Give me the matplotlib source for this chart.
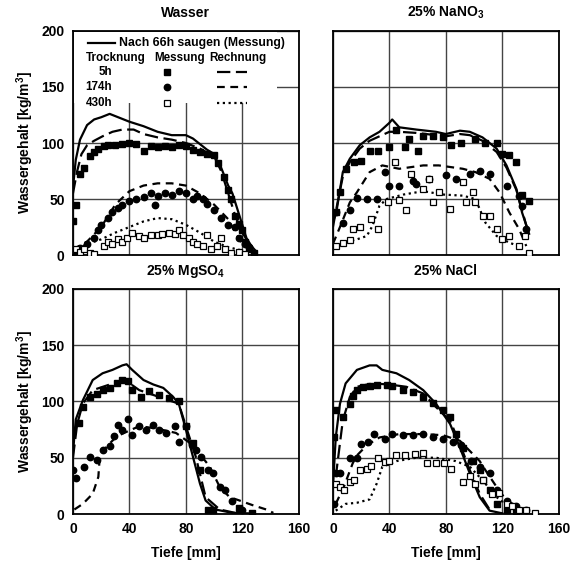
import matplotlib.pyplot as plt
from matplotlib.patches import Rectangle

plt.rcParams["font.family"] = ["Liberation Sans", "DejaVu Sans"]
plt.rcParams["font.weight"] = "bold"
plt.rcParams["mathtext.default"] = "regular"

titles = ["Wasser", "25% NaNO$_3$", "25% MgSO$_4$", "25% NaCl"]
x_ticks = [0, 40, 80, 120, 160]
y_ticks = [0, 50, 100, 150, 200]

# ---- Wasser ----
w_saug_x = [0, 2, 5, 10, 15, 20, 26, 30, 40, 50, 60, 70, 80, 85, 90, 95, 99, 105, 110, 113, 118, 123, 126]
w_saug_y = [60, 85, 103, 116, 121, 123, 126, 124, 119, 115, 110, 107, 107, 104, 99, 94, 91, 78, 62, 55, 35, 15, 9]
w_r5_x = [0, 3, 6, 10, 15, 21, 28, 35, 43, 50, 60, 70, 80, 90, 100, 105, 110, 115, 120, 125, 130]
w_r5_y = [55, 75, 90, 98, 102, 106, 110, 112, 112, 108, 105, 103, 100, 95, 88, 75, 55, 35, 20, 10, 3]
w_m5_x = [0, 2, 5, 8, 12, 15, 18, 22, 25, 30, 35, 40, 45, 50, 55, 60, 65, 70, 75, 80, 85, 90, 95, 100, 103, 107, 110, 112, 115, 118, 120, 122, 125, 128]
w_m5_y = [30, 45, 72, 78, 88, 92, 95, 97, 98, 98, 99, 100, 99, 93, 97, 96, 97, 96, 98, 97, 94, 92, 90, 89, 82, 70, 58, 50, 35, 28, 22, 12, 5, 2]
w_r174_x = [0, 10, 20, 25, 30, 40, 50, 60, 70, 80, 90, 100, 110, 115, 120, 125]
w_r174_y = [5, 12, 25, 35, 45, 57, 62, 64, 64, 62, 55, 45, 32, 20, 10, 5]
w_m174_x = [1, 5, 10, 15, 18, 20, 25, 28, 32, 35, 40, 45, 50, 55, 58, 60, 65, 70, 75, 80, 85, 88, 92, 95, 100, 105, 110, 115, 118, 122, 125]
w_m174_y = [3, 6, 10, 15, 22, 27, 33, 38, 42, 45, 48, 50, 52, 55, 45, 53, 55, 54, 57, 55, 50, 53, 50, 46, 40, 33, 27, 25, 15, 10, 7]
w_r430_x = [0, 10, 20, 30, 40, 50, 60, 70, 80, 90, 100, 110, 120]
w_r430_y = [3, 10, 14, 20, 25, 30, 33, 32, 27, 20, 12, 7, 4]
w_m430_x = [2, 5, 8, 12, 15, 22, 25, 28, 32, 35, 38, 42, 47, 50, 55, 60, 63, 68, 72, 75, 78, 82, 85, 88, 92, 95, 98, 102, 105, 108, 112, 118, 122]
w_m430_y = [5, 3, 5, 2, 1, 8, 12, 10, 14, 12, 15, 20, 17, 15, 18, 18, 19, 20, 19, 22, 18, 15, 12, 10, 8, 18, 5, 8, 15, 5, 2, 3, 1]

# ---- NaNO3 ----
n_saug_x = [0, 2.4, 7, 12, 19, 26, 33, 40, 42, 47, 59, 73, 80, 90, 97, 106, 116, 123, 130, 134, 139]
n_saug_y = [30, 38, 74, 86, 98, 105, 110, 118, 121, 114, 112, 110, 108, 111, 110, 105, 95, 80, 59, 38, 19]
n_r5_x = [0, 3, 7, 12, 19, 26, 33, 40, 47, 59, 73, 80, 90, 97, 106, 116, 123, 130, 134, 138]
n_r5_y = [25, 45, 70, 83, 95, 102, 106, 110, 110, 109, 107, 106, 108, 107, 102, 92, 78, 58, 40, 22]
n_m5_x = [2, 5, 9, 15, 20, 26, 32, 40, 45, 51, 54, 60, 64, 71, 78, 84, 91, 101, 108, 116, 120, 125, 130, 134, 139]
n_m5_y = [38, 56, 77, 83, 84, 93, 93, 96, 112, 96, 104, 93, 106, 106, 105, 98, 100, 104, 100, 100, 90, 89, 83, 54, 48]
n_r174_x = [0, 5, 12, 17, 26, 35, 47, 64, 75, 92, 101, 111, 118, 125, 132, 137]
n_r174_y = [10, 25, 47, 56, 74, 80, 77, 80, 80, 77, 74, 68, 56, 38, 23, 8]
n_m174_x = [2, 7, 12, 17, 24, 31, 37, 40, 47, 57, 59, 68, 80, 87, 97, 104, 111, 123, 132, 134, 137]
n_m174_y = [38, 29, 40, 51, 50, 50, 74, 62, 62, 66, 63, 68, 71, 68, 72, 75, 72, 62, 53, 44, 23]
n_r430_x = [2, 7, 17, 24, 28, 33, 38, 50, 64, 78, 92, 101, 108, 116, 125, 134]
n_r430_y = [8, 11, 14, 17, 26, 44, 50, 54, 57, 54, 53, 50, 29, 17, 11, 7]
n_m430_x = [2, 7, 12, 14, 19, 27, 32, 39, 44, 47, 52, 55, 64, 68, 71, 75, 83, 92, 94, 99, 101, 106, 111, 116, 120, 125, 132, 136, 139]
n_m430_y = [8, 11, 13, 23, 25, 32, 23, 47, 83, 49, 40, 72, 59, 68, 47, 56, 41, 65, 47, 56, 47, 35, 35, 23, 14, 17, 8, 17, 2]

# ---- MgSO4 ----
m_saug_x = [0, 2, 7, 14, 21, 28, 35, 38, 42, 50, 57, 64, 71, 75, 80, 85, 90, 94, 101, 113, 127]
m_saug_y = [54, 84, 101, 119, 125, 128, 132, 133, 128, 119, 115, 112, 104, 98, 75, 51, 27, 12, 4, 1, 0.5]
m_r5_x = [0, 3, 7, 14, 26, 38, 47, 61, 75, 80, 87, 94, 104, 115]
m_r5_y = [50, 80, 98, 110, 115, 118, 110, 104, 98, 78, 51, 15, 4, 1]
m_m5_x = [4, 7, 12, 17, 21, 26, 31, 35, 39, 42, 48, 54, 61, 68, 75, 80, 85, 90, 96, 99, 118, 127]
m_m5_y = [81, 95, 104, 107, 110, 112, 116, 119, 118, 110, 104, 109, 106, 103, 100, 78, 63, 39, 4, 4, 5, 1]
m_r174_x = [1, 7, 14, 18, 19, 24, 31, 38, 47, 59, 73, 83, 90, 97, 104, 111, 118, 127, 137, 142]
m_r174_y = [4, 9, 18, 33, 51, 60, 69, 73, 78, 76, 72, 63, 53, 42, 24, 15, 12, 8, 4, 1]
m_m174_x = [0, 2, 8, 12, 17, 21, 26, 29, 32, 35, 39, 42, 47, 52, 57, 61, 66, 72, 75, 80, 84, 87, 91, 96, 99, 104, 108, 113, 120]
m_m174_y = [39, 32, 42, 51, 48, 57, 60, 69, 79, 75, 84, 70, 78, 75, 79, 75, 72, 78, 64, 78, 61, 57, 51, 39, 36, 24, 21, 12, 4]

# ---- NaCl ----
c_saug_x = [0, 2, 5, 9, 17, 26, 31, 35, 45, 54, 64, 73, 83, 90, 97, 104, 111, 120]
c_saug_y = [24, 68, 98, 116, 128, 132, 132, 128, 125, 119, 110, 98, 80, 59, 36, 15, 3, 0.6]
c_r5_x = [2, 7, 12, 17, 28, 40, 52, 64, 73, 83, 90, 97, 104, 111]
c_r5_y = [33, 83, 104, 113, 116, 115, 113, 107, 95, 83, 62, 39, 18, 4]
c_m5_x = [1, 2, 7, 12, 14, 17, 21, 26, 31, 38, 42, 50, 57, 64, 71, 78, 83, 87, 92, 99, 104, 106, 111, 116, 123, 130]
c_m5_y = [68, 92, 86, 98, 105, 110, 113, 114, 115, 115, 114, 110, 108, 104, 99, 92, 86, 71, 59, 47, 39, 30, 21, 9, 4, 3]
c_r174_x = [2, 8, 14, 17, 24, 33, 47, 64, 78, 90, 97, 104, 108, 116, 123, 132]
c_r174_y = [9, 25, 45, 52, 61, 68, 71, 71, 70, 65, 56, 47, 39, 24, 12, 6]
c_m174_x = [1, 2, 5, 12, 17, 20, 25, 29, 37, 42, 50, 57, 64, 71, 78, 85, 91, 98, 104, 111, 116, 123, 130, 137]
c_m174_y = [9, 36, 36, 50, 50, 62, 64, 71, 67, 71, 70, 70, 71, 68, 67, 64, 61, 47, 42, 36, 21, 12, 7, 4]
c_r430_x = [2, 9, 17, 26, 31, 35, 45, 59, 73, 87, 97, 106, 116, 125, 134]
c_r430_y = [3, 9, 10, 13, 27, 42, 47, 50, 50, 47, 42, 30, 15, 6, 2]
c_m430_x = [2, 5, 8, 12, 15, 19, 24, 27, 32, 37, 40, 45, 51, 58, 64, 67, 73, 79, 84, 92, 97, 101, 106, 113, 118, 123, 127, 132, 137, 143]
c_m430_y = [27, 24, 21, 28, 30, 39, 40, 43, 50, 46, 47, 52, 52, 53, 54, 45, 45, 45, 40, 28, 34, 27, 30, 18, 19, 9, 7, 4, 4, 1]

panels = [
    dict(saug=(w_saug_x, w_saug_y),
         rech=[(w_r5_x, w_r5_y), (w_r174_x, w_r174_y), (w_r430_x, w_r430_y)],
         mess=[(w_m5_x, w_m5_y), (w_m174_x, w_m174_y), (w_m430_x, w_m430_y)]),
    dict(saug=(n_saug_x, n_saug_y),
         rech=[(n_r5_x, n_r5_y), (n_r174_x, n_r174_y), (n_r430_x, n_r430_y)],
         mess=[(n_m5_x, n_m5_y), (n_m174_x, n_m174_y), (n_m430_x, n_m430_y)]),
    dict(saug=(m_saug_x, m_saug_y),
         rech=[(m_r5_x, m_r5_y), (m_r174_x, m_r174_y), None],
         mess=[(m_m5_x, m_m5_y), (m_m174_x, m_m174_y), None]),
    dict(saug=(c_saug_x, c_saug_y),
         rech=[(c_r5_x, c_r5_y), (c_r174_x, c_r174_y), (c_r430_x, c_r430_y)],
         mess=[(c_m5_x, c_m5_y), (c_m174_x, c_m174_y), (c_m430_x, c_m430_y)]),
]

dash_styles = [(6, 2.5), (3.5, 2.5), (1, 1.6)]
marker_styles = [
    dict(marker="s", ms=3.9, mfc="black", mec="black"),
    dict(marker="o", ms=4.6, mfc="black", mec="black"),
    dict(marker="s", ms=4.0, mfc="white", mec="black", mew=0.9),
]

fig = plt.figure(figsize=(5.79, 5.63), dpi=100)
boxes = [
    [0.126, 0.547, 0.390, 0.398],
    [0.575, 0.547, 0.390, 0.398],
    [0.126, 0.087, 0.390, 0.400],
    [0.575, 0.087, 0.390, 0.400],
]

for i, p in enumerate(panels):
    ax = fig.add_axes(boxes[i])
    ax.set_xlim(0, 160)
    ax.set_ylim(0, 200)
    ax.set_xticks(x_ticks)
    ax.set_yticks(y_ticks)
    ax.grid(True, color="#444444", lw=1.0)
    ax.set_axisbelow(True)
    for s in ax.spines.values():
        s.set_linewidth(1.3)
    ax.tick_params(length=0, labelsize=10, pad=6)
    if i < 2:
        ax.set_xticklabels([])
    else:
        ax.set_xlabel("Tiefe [mm]", fontsize=10, fontweight="bold", labelpad=7)
    if i % 2 == 1:
        ax.set_yticklabels([])
    else:
        ax.set_ylabel("Wassergehalt [kg/m$^3$]", fontsize=10, fontweight="bold", labelpad=4)
    ax.set_title(titles[i], fontsize=10, fontweight="bold", pad=10)

    sx, sy = p["saug"]
    ax.plot(sx, sy, color="black", lw=1.6, zorder=4)
    for k in range(3):
        if p["rech"][k] is not None:
            rx, ry = p["rech"][k]
            ax.plot(rx, ry, color="black", lw=1.6, dashes=dash_styles[k], zorder=3)
        if p["mess"][k] is not None:
            mx, my = p["mess"][k]
            ax.plot(mx, my, ls="none", zorder=5, **marker_styles[k])

    if i == 0:
        # legend block drawn by hand, white box hides the grid behind it
        ax.add_patch(Rectangle((0.004, 0.68), 0.9, 0.316, transform=ax.transAxes,
                               facecolor="white", edgecolor="none", zorder=6))
        ax.plot([0.066, 0.186], [0.946, 0.946], transform=ax.transAxes,
                color="black", lw=1.6, zorder=7)
        ax.text(0.205, 0.946, "Nach 66h saugen (Messung)", transform=ax.transAxes,
                fontsize=8.8, fontweight="bold", va="center", zorder=7)
        for lab, xx in zip(["Trocknung", "Messung", "Rechnung"], [0.19, 0.47, 0.73]):
            ax.text(xx, 0.879, lab, transform=ax.transAxes, ha="center",
                    fontsize=8.4, fontweight="bold", va="center", zorder=7)
        for k, (lab, yy) in enumerate(zip(["5h", "174h", "430h"], [0.817, 0.748, 0.679])):
            ax.text(0.173, yy, lab, transform=ax.transAxes, ha="right",
                    fontsize=8.4, fontweight="bold", va="center", zorder=7)
            ax.plot([0.416], [yy], transform=ax.transAxes, ls="none", zorder=7,
                    **marker_styles[k])
            ax.plot([0.64, 0.77], [yy, yy], transform=ax.transAxes, color="black",
                    lw=1.6, dashes=dash_styles[k], zorder=7)

fig.savefig("out.png", dpi=100)
